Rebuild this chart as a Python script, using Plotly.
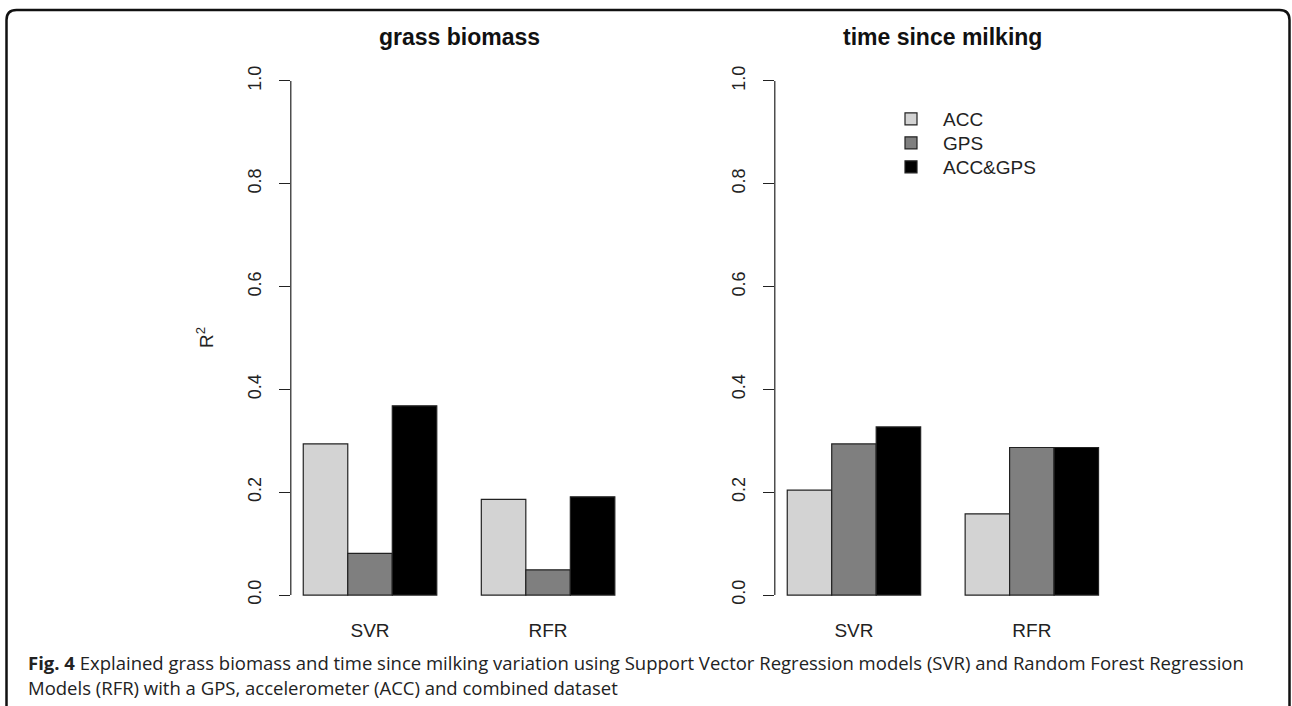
import plotly.graph_objects as go
from plotly.subplots import make_subplots

models = ["SVR", "RFR"]
series = ["ACC", "GPS", "ACC&GPS"]
colors = ["#d3d3d3", "#7f7f7f", "#000000"]
grass_biomass = {"ACC": [0.294, 0.186], "GPS": [0.081, 0.049], "ACC&GPS": [0.368, 0.191]}
time_since_milking = {"ACC": [0.204, 0.158], "GPS": [0.294, 0.287], "ACC&GPS": [0.327, 0.287]}
panel_titles = ["grass biomass", "time since milking"]
y_ticks = [0.0, 0.2, 0.4, 0.6, 0.8, 1.0]
y_ticklabels = ["0.0", "0.2", "0.4", "0.6", "0.8", "1.0"]
caption_line1 = ("<b>Fig. 4</b> Explained grass biomass and time since milking variation using "
                 "Support Vector Regression models (SVR) and Random Forest Regression")
caption_line2 = "Models (RFR) with a GPS, accelerometer (ACC) and combined dataset"

W, H = 1292, 706
FONT = "Liberation Sans, Arial, sans-serif"

def px_x(p):
    return p / W

def px_y(p):
    return 1 - p / H

fig = make_subplots(rows=1, cols=2)

legend_names = ["legend", "legend2", "legend3"]
legend_rows_px = [119, 143, 167]

for col, data in enumerate([grass_biomass, time_since_milking], start=1):
    for k, (s, c) in enumerate(zip(series, colors)):
        fig.add_trace(go.Bar(
            x=models, y=data[s], name=s, marker_color=c,
            marker_line=dict(color="#222222", width=1.2),
            showlegend=(col == 2), legendgroup=s, legend=legend_names[k],
        ), row=1, col=col)

x_domains = [[px_x(290.8), px_x(627.3)], [px_x(774.8), px_x(1111.0)]]
y_domain = [px_y(615.6), px_y(60.4)]

legend_style = dict(xanchor="left", yanchor="middle",
                    font=dict(size=19, family=FONT, color="#222222"),
                    bgcolor="rgba(0,0,0,0)", itemwidth=54, borderwidth=0)
fig.update_layout(
    width=W, height=H, margin=dict(l=0, r=0, t=0, b=0),
    paper_bgcolor="white", plot_bgcolor="white",
    barmode="group", bargap=0.25, bargroupgap=0,
    font=dict(family=FONT, color="#222222", size=18),
)
for name, ypx in zip(legend_names, legend_rows_px):
    fig.layout[name] = dict(x=px_x(879), y=px_y(ypx), **legend_style)

for i, ax in enumerate(["", "2"]):
    fig.layout["xaxis" + ax].update(
        domain=x_domains[i], range=[-0.445, 1.445], showline=False, showgrid=False,
        zeroline=False, ticks="", tickfont=dict(size=19, family=FONT, color="#222222"),
        ticklabelstandoff=1,
    )
    fig.layout["yaxis" + ax].update(
        domain=y_domain, range=[-0.04, 1.04], showline=False, showgrid=False,
        zeroline=False, ticks="outside", ticklen=11, tickwidth=1.2, tickcolor="#222222",
        tickvals=y_ticks, ticktext=y_ticklabels, tickangle=-90, ticklabelstandoff=11,
        tickfont=dict(size=18, family=FONT, color="#222222"),
    )
    # axis line spanning only the tick range (like R's axis())
    fig.add_shape(type="line", xref=("x" + ax) + " domain", yref="y" + ax,
                  x0=0, x1=0, y0=y_ticks[0], y1=y_ticks[-1],
                  line=dict(color="#222222", width=1.2))
    fig.add_annotation(text="<b>" + panel_titles[i] + "</b>", xref="paper", yref="paper",
                       x=sum(x_domains[i]) / 2, y=px_y(36.7), showarrow=False,
                       xanchor="center", yanchor="middle",
                       font=dict(size=23, family=FONT, color="#111111"))

fig.add_annotation(text="R<sup>2</sup>", xref="paper", yref="paper", x=px_x(205), y=px_y(338),
                   xanchor="center", yanchor="middle",
                   showarrow=False, textangle=-90, font=dict(size=19, family=FONT, color="#222222"))

fig.add_annotation(text=caption_line1, xref="paper", yref="paper", x=px_x(26), y=px_y(662),
                   xanchor="left", yanchor="middle", showarrow=False, align="left",
                   font=dict(size=18.5, family="Open Sans, sans-serif", color="#222222"))
fig.add_annotation(text=caption_line2, xref="paper", yref="paper", x=px_x(26), y=px_y(687),
                   xanchor="left", yanchor="middle", showarrow=False, align="left",
                   font=dict(size=18.5, family="Open Sans, sans-serif", color="#222222"))

# rounded frame around the figure
x0, x1, y0, y1, r = 6.5, 1289.5, 10, 740, 10
path = (f"M {px_x(x0)},{px_y(y1)} L {px_x(x0)},{px_y(y0 + r)} "
        f"Q {px_x(x0)},{px_y(y0)} {px_x(x0 + r)},{px_y(y0)} "
        f"L {px_x(x1 - r)},{px_y(y0)} Q {px_x(x1)},{px_y(y0)} {px_x(x1)},{px_y(y0 + r)} "
        f"L {px_x(x1)},{px_y(y1)}")
fig.add_shape(type="path", xref="paper", yref="paper", path=path,
              line=dict(color="#111111", width=2.5))

fig.write_html("out.html", config={"displayModeBar": False},
               post_script="document.body.style.margin='0';document.body.style.overflow='hidden';")
